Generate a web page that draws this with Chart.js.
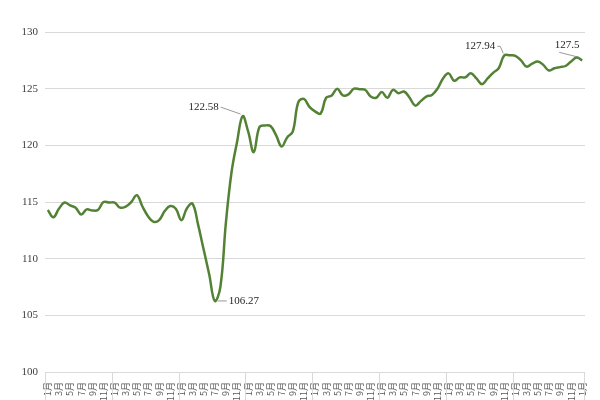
<!DOCTYPE html>
<html>
<head>
<meta charset="utf-8">
<script src="https://cdn.jsdelivr.net/npm/chart.js@4"></script>
<style>
    html, body { margin: 0; padding: 0; background: #fff; overflow: hidden; }
    #wrap { width: 600px; height: 400px; }
</style>
</head>
<body>
<div id="wrap"><canvas id="priceChart"></canvas></div>
<script>
// Подписи месяцев и число полных лет на оси
const monthNames = ['1月', '2月', '3月', '4月', '5月', '6月', '7月', '8月', '9月', '10月', '11月', '12月'];
const yearCount = 8;

// Значения индекса по месяцам (8 лет + январь следующего)
const values = [
    114.3, 113.65, 114.4, 114.95, 114.7, 114.5, 113.9, 114.35, 114.25, 114.3, 115.0, 114.95,
    114.95, 114.5, 114.6, 115.0, 115.6, 114.6, 113.75, 113.25, 113.4, 114.2, 114.65, 114.4,
    113.4, 114.45, 114.85, 113.0, 110.8, 108.6, 106.27, 107.5, 113.2, 117.6, 120.3, 122.58,
    121.2, 119.4, 121.6, 121.75, 121.7, 120.9, 119.9, 120.7, 121.2, 123.8, 124.1, 123.4,
    123.0, 122.8, 124.2, 124.4, 125.0, 124.4, 124.5, 125.0, 124.95, 124.9, 124.3, 124.2,
    124.7, 124.2, 124.9, 124.6, 124.75, 124.2, 123.5, 123.9, 124.3, 124.45, 125.0, 125.9,
    126.35, 125.7, 126.0, 126.0, 126.35, 125.9, 125.4, 125.9, 126.4, 126.8, 127.94, 127.94,
    127.9, 127.5, 126.95, 127.2, 127.4, 127.1, 126.6, 126.8, 126.9, 127.0, 127.4, 127.75,
    127.5
];

// Подписанные точки
const calloutIndexes = [35, 30, 82, 96];
const calloutTexts = ['122.58', '106.27', '127.94', '127.5'];

// Шкала Y
const yMin = 100;
const yMax = 130;
const yStep = 5;

const categories = [];
for (let y = 0; y < yearCount; y++) {
    monthNames.forEach(m => categories.push(m));
}
categories.push(monthNames[0]);

// Смещения выносок относительно точки (только оформление)
const calloutStyle = [
    { align: 'right', dx: -24, dy: -9, leader: [[-22, -9], [-2, -2]] },
    { align: 'left', dx: 14, dy: 0, leader: [[3, 0], [12, 0]] },
    { align: 'right', dx: -9, dy: -9, leader: [[-7, -9], [-4, -9], [-1, -2]] },
    { align: 'center', dx: -15, dy: -15, leader: [[-23, -8], [-3, -3]] }
];

// Разделители годов под осью X
const yearSeparators = {
    id: 'yearSeparators',
    afterDraw(chart) {
        const x = chart.scales.x;
        const area = chart.chartArea;
        const ctx = chart.ctx;
        const half = (x.getPixelForValue(1) - x.getPixelForValue(0)) / 2;
        ctx.save();
        ctx.strokeStyle = '#d9d9d9';
        ctx.lineWidth = 1;
        ctx.beginPath();
        for (let b = 0; b < yearCount * 12; b += 12) {
            const px = Math.round(x.getPixelForValue(b) - half) + 0.5;
            ctx.moveTo(px, area.bottom);
            ctx.lineTo(px, chart.height);
        }
        const right = Math.round(area.right) - 0.5;
        ctx.moveTo(right, area.bottom);
        ctx.lineTo(right, chart.height);
        ctx.stroke();
        ctx.restore();
    }
};

// Выноски со значениями
const callouts = {
    id: 'callouts',
    afterDatasetsDraw(chart) {
        const ctx = chart.ctx;
        const meta = chart.getDatasetMeta(0);
        ctx.save();
        ctx.font = '11px "Liberation Serif", serif';
        ctx.fillStyle = '#262626';
        ctx.textBaseline = 'middle';
        ctx.strokeStyle = '#7f7f7f';
        ctx.lineWidth = 0.8;
        calloutIndexes.forEach((idx, k) => {
            const pt = meta.data[idx];
            const st = calloutStyle[k];
            ctx.beginPath();
            st.leader.forEach((p, j) => {
                if (j === 0) ctx.moveTo(pt.x + p[0], pt.y + p[1]);
                else ctx.lineTo(pt.x + p[0], pt.y + p[1]);
            });
            ctx.stroke();
            ctx.textAlign = st.align;
            ctx.fillText(calloutTexts[k], pt.x + st.dx, pt.y + st.dy);
        });
        ctx.restore();
    }
};

new Chart(document.getElementById('priceChart'), {
    type: 'line',
    data: {
        labels: categories,
        datasets: [{
            data: values,
            borderColor: '#548235',
            borderWidth: 2.5,
            pointRadius: 0,
            tension: 0.4,
            fill: false
        }]
    },
    options: {
        responsive: true,
        maintainAspectRatio: false,
        animation: false,
        layout: {
            padding: { top: 32, right: 15, left: 0, bottom: 0 }
        },
        plugins: {
            legend: { display: false },
            tooltip: { enabled: false }
        },
        scales: {
            x: {
                offset: true,
                grid: { display: false },
                border: { display: false },
                afterFit(scale) { scale.height = 28; },
                ticks: {
                    autoSkip: false,
                    minRotation: 90,
                    maxRotation: 90,
                    padding: 2,
                    color: '#595959',
                    font: { family: '"Noto Sans CJK SC"', size: 9 },
                    callback: (v, i) => (i % 2 === 0 ? categories[i] : '')
                }
            },
            y: {
                min: yMin,
                max: yMax,
                border: { display: false },
                grid: { color: '#d9d9d9', drawTicks: false },
                afterFit(scale) { scale.width = 45; },
                ticks: {
                    stepSize: yStep,
                    padding: 7,
                    color: '#404040',
                    font: { family: '"Liberation Serif"', size: 11 }
                }
            }
        }
    },
    plugins: [yearSeparators, callouts]
});
</script>
</body>
</html>
